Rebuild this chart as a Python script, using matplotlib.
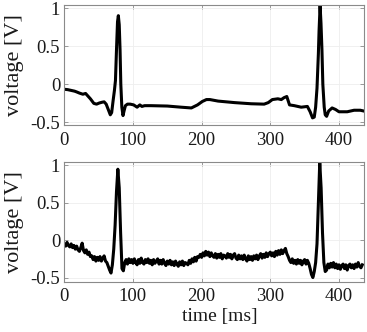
import numpy as np
import matplotlib.pyplot as plt

# Clean ECG (top panel)
t_clean = [0, 5, 10, 15, 18, 22, 27, 31, 35, 38, 43, 47, 51, 55, 58, 61, 64,
           67, 69, 71, 73, 74.5, 76, 77.5, 78.7, 80, 81.2, 82.3, 83.8, 85.5,
           87, 89, 92, 96, 101, 106, 110, 113, 117, 126, 150, 170, 185, 194,
           201, 207, 212, 218, 224, 248, 272, 291, 297, 303, 311, 316, 320,
           324, 328, 335, 345, 354, 358, 361.5, 364, 366, 368, 370, 371,
           372.5, 373.8, 375.2, 376.5, 378.5, 380, 382, 385, 390, 395, 400,
           412, 422, 431, 436]
v_clean = [-0.065, -0.07, -0.08, -0.09, -0.10, -0.115, -0.13, -0.12, -0.16,
           -0.19, -0.25, -0.26, -0.245, -0.235, -0.23, -0.26, -0.33,
           -0.40, -0.37, -0.22, -0.08, 0.05, 0.45, 0.82, 0.90, 0.78, 0.45,
           0.0, -0.30, -0.41,
           -0.35, -0.28, -0.26, -0.26, -0.27, -0.30, -0.27, -0.29, -0.28,
           -0.28, -0.285, -0.30, -0.31, -0.27,
           -0.225, -0.20, -0.20, -0.21, -0.22, -0.24, -0.255, -0.26, -0.24,
           -0.20, -0.19, -0.20, -0.175,
           -0.16, -0.27, -0.28, -0.30, -0.29, -0.36, -0.44, -0.43, -0.30,
           -0.05, 0.40, 0.70,
           1.03, 0.80, 0.45, 0.0, -0.30, -0.40, -0.42, -0.35, -0.31, -0.33,
           -0.36, -0.36, -0.34, -0.34, -0.35]

# Noisy ECG (bottom panel), one value every 2 ms
dt_noisy = 2
v_noisy = [
    -0.05, -0.08, -0.03, -0.07, -0.09, -0.05, -0.10, -0.07, -0.12, -0.08,
    -0.13, -0.15, -0.10, -0.04, -0.14, -0.17, -0.13, -0.19, -0.16, -0.22,
    -0.21, -0.26, -0.22, -0.28, -0.23, -0.27, -0.22, -0.28, -0.24, -0.21,
    -0.28, -0.30, -0.35, -0.40, -0.44, -0.33, -0.12, 0.20, 0.65, 0.95,
    0.70, 0.10, -0.38, -0.41, -0.30, -0.26, -0.32, -0.25, -0.30, -0.26,
    -0.31, -0.25, -0.30, -0.33, -0.26, -0.31, -0.24, -0.30, -0.32, -0.26,
    -0.30, -0.25, -0.31, -0.27, -0.33, -0.26, -0.31, -0.28, -0.25, -0.32,
    -0.27, -0.32, -0.26, -0.31, -0.34, -0.28, -0.32, -0.27, -0.33, -0.29,
    -0.34, -0.28, -0.32, -0.35, -0.29, -0.33, -0.28, -0.34, -0.30, -0.31,
    -0.33, -0.27, -0.31, -0.25, -0.29, -0.23, -0.28, -0.22, -0.23, -0.19,
    -0.23, -0.17, -0.21, -0.15, -0.20, -0.16, -0.22, -0.17, -0.21, -0.23,
    -0.18, -0.24, -0.19, -0.23, -0.18, -0.25, -0.20, -0.21, -0.24, -0.18,
    -0.23, -0.19, -0.25, -0.20, -0.18, -0.24, -0.26, -0.20, -0.25, -0.21,
    -0.26, -0.20, -0.25, -0.28, -0.21, -0.26, -0.22, -0.27, -0.21, -0.25,
    -0.20, -0.26, -0.21, -0.18, -0.24, -0.19, -0.23, -0.17, -0.22, -0.18,
    -0.16, -0.21, -0.17, -0.22, -0.15, -0.20, -0.14, -0.19, -0.13, -0.18,
    -0.14, -0.11, -0.18, -0.22, -0.27, -0.30, -0.25, -0.31, -0.27, -0.32,
    -0.26, -0.31, -0.27, -0.33, -0.28, -0.26, -0.32, -0.27, -0.31, -0.38,
    -0.46, -0.50, -0.42, -0.30, -0.05, 0.50, 1.04, 0.70, 0.10, -0.30,
    -0.42, -0.40, -0.32, -0.37, -0.31, -0.36, -0.30, -0.37, -0.32, -0.38,
    -0.33, -0.39, -0.34, -0.32, -0.38, -0.33, -0.40, -0.34, -0.32, -0.37,
    -0.33, -0.38, -0.32, -0.36, -0.30, -0.35, -0.37, -0.33,
]
t_noisy = np.arange(len(v_noisy)) * dt_noisy

X_TICKS = [0, 100, 200, 300, 400]
Y_TICKS = [-0.5, 0, 0.5, 1]

plt.rcParams['font.family'] = ['Liberation Serif', 'DejaVu Serif']
plt.rcParams['axes.unicode_minus'] = False

fig = plt.figure(figsize=(3.67, 3.32), dpi=100)
ax_top = fig.add_axes([0.1752, 0.6220, 0.8158, 0.3630])
ax_bot = fig.add_axes([0.1752, 0.1506, 0.8158, 0.3600])

for ax, t, v, ylim in [(ax_top, t_clean, v_clean, (-0.54, 1.04)),
                       (ax_bot, t_noisy, v_noisy, (-0.56, 1.04))]:
    ax.plot(t, v, color='black', lw=2.2, solid_joinstyle='round')
    ax.set_xlim(0, 436)
    ax.set_ylim(*ylim)
    ax.set_xticks(X_TICKS)
    ax.set_yticks(Y_TICKS)
    ax.set_yticklabels(['-0.5', '0', '0.5', '1'])
    ax.grid(True, color='#eeeeee', lw=0.6)
    ax.set_axisbelow(True)
    for s in ax.spines.values():
        s.set_color('#8a8a8a')
        s.set_linewidth(0.8)
    ax.tick_params(direction='in', length=3, width=0.6, color='#8a8a8a',
                   top=True, right=True, labelsize=13.5, labelcolor='#1a1a1a')
    ax.tick_params(axis='x', pad=4.5)
    ax.tick_params(axis='y', pad=3)
    ax.set_ylabel('voltage [V]', fontsize=16, color='#1a1a1a')
    ax.yaxis.set_label_coords(-0.135, 0.5)

ax_bot.set_xlabel('time [ms]', fontsize=14, color='#1a1a1a')
ax_bot.xaxis.set_label_coords(0.52, -0.215)

fig.savefig('out.png', dpi=100)
